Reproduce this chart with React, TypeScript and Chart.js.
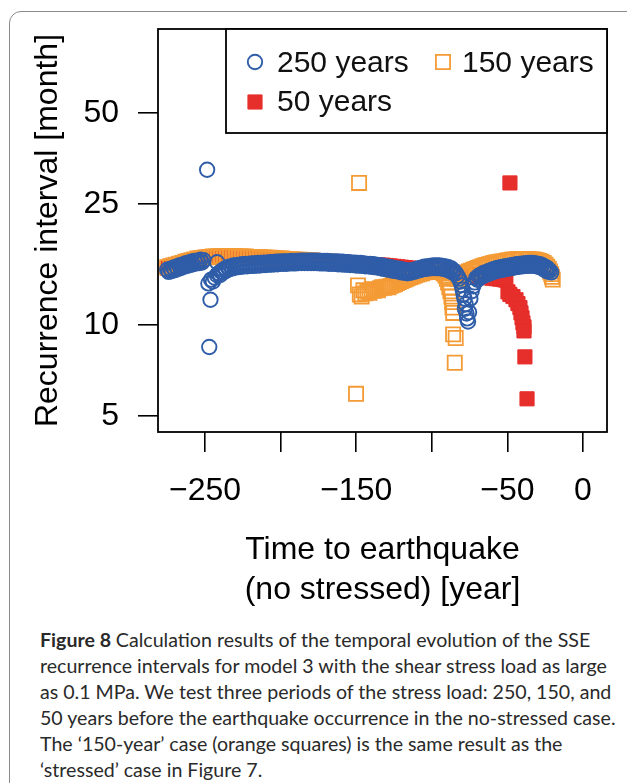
import React, { useEffect, useRef } from 'react';
import { Chart, registerables } from 'chart.js';

Chart.register(...registerables);

const FONT = '"Liberation Sans", Arial, Helvetica, sans-serif';
const BLUE = '#2F5DA8';
const ORANGE = '#F49B36';
const RED = '#E62E2B';

const SERIES_LABELS = ['250 years', '150 years', '50 years'];
const X_TICKS = [-250, -200, -150, -100, -50, 0];
const X_TICK_LABELS = ['\u2212250', '', '\u2212150', '', '\u221250', '0'];
const Y_TICKS = [5, 10, 25, 50];
const Y_TICK_LABELS = ['5', '10', '25', '50'];
const X_MIN = -281.1;
const X_MAX = 15.9;
const Y_MIN = 4.43;
const Y_MAX = 94.7;
const X_TITLE = ['Time to earthquake', '(no stressed) [year]'];
const Y_TITLE = 'Recurrence interval [month]';

type P = [number, number];

// ---- 250 years (blue circles) ----
const blueBefore: P[] = [
  [-275, 15.2], [-273, 15.3], [-271, 15.45], [-269, 15.55], [-267, 15.7], [-265, 15.8], [-263, 15.95],
  [-261, 16.05], [-259, 16.15], [-257, 16.25], [-255, 16.3], [-253, 16.4], [-251, 16.35],
];
const blueBeforeLow: P[] = [
  [-274, 14.95], [-272, 15.05], [-270, 15.15], [-268, 15.3], [-266, 15.4], [-264, 15.55], [-262, 15.65],
  [-260, 15.75], [-258, 15.85], [-256, 15.95], [-254, 16.0], [-252, 16.05],
];
const blueJump: P[] = [
  [-248.6, 32.5], [-247.2, 8.45], [-246.4, 12.1], [-247.8, 13.7], [-246.0, 14.1], [-244.8, 13.9],
  [-243.5, 14.3], [-242.2, 14.6], [-242.0, 16.1],
];
const blueRecovery: P[] = [
  [-241, 14.8], [-239.5, 15.0], [-238, 15.2], [-236.5, 15.35], [-235, 15.5], [-233, 15.6], [-231, 15.7],
  [-229, 15.75], [-227, 15.8], [-225, 15.85], [-223, 15.9], [-221, 15.9], [-219, 15.95], [-217, 15.95],
  [-215, 16.0], [-213, 16.0], [-211, 16.05], [-209, 16.05], [-207, 16.1], [-205, 16.1], [-203, 16.15],
  [-201, 16.15], [-199, 16.2], [-197, 16.2], [-195, 16.2], [-193, 16.25], [-191, 16.25], [-189, 16.25],
  [-187, 16.3], [-185, 16.3], [-183, 16.3], [-181, 16.3], [-179, 16.3], [-177, 16.3], [-175, 16.3],
  [-173, 16.25], [-171, 16.25], [-169, 16.25], [-167, 16.2], [-165, 16.2], [-163, 16.2], [-161, 16.15],
  [-159, 16.15], [-157, 16.1], [-155, 16.1], [-153, 16.05], [-151, 16.05], [-149, 16.0], [-147, 16.0],
  [-145, 15.95], [-143, 15.9], [-141, 15.9], [-139, 15.85], [-137, 15.8], [-135, 15.75], [-133, 15.7],
  [-131, 15.6], [-129, 15.55], [-127, 15.5], [-125, 15.4], [-123, 15.35], [-121, 15.3], [-119, 15.2],
  [-117, 15.15], [-115, 15.1], [-113, 15.15], [-111, 15.25], [-109, 15.35], [-107, 15.45], [-105, 15.55],
  [-103, 15.6], [-101, 15.65], [-99, 15.7], [-97, 15.7], [-95, 15.7], [-93, 15.65], [-91, 15.6],
  [-89, 15.5], [-87, 15.35], [-85.5, 15.1], [-84, 14.8], [-83, 14.5], [-82, 14.2], [-81, 13.9],
];
const blueRecoveryLow: P[] = [
  [-240, 14.6], [-238, 14.9], [-236, 15.1], [-234, 15.25], [-232, 15.35], [-230, 15.45], [-228, 15.5],
  [-226, 15.55], [-224, 15.6], [-222, 15.6], [-220, 15.65], [-218, 15.65], [-216, 15.7], [-214, 15.7],
  [-212, 15.75], [-210, 15.75], [-208, 15.8], [-206, 15.8], [-204, 15.85], [-202, 15.85], [-200, 15.9],
  [-198, 15.9], [-196, 15.9], [-194, 15.95], [-192, 15.95], [-190, 15.95], [-188, 16.0], [-186, 16.0],
  [-184, 16.0], [-182, 16.0], [-180, 16.0], [-178, 16.0], [-176, 16.0], [-174, 15.95], [-172, 15.95],
  [-170, 15.95], [-168, 15.9], [-166, 15.9], [-164, 15.9], [-162, 15.85], [-160, 15.85], [-158, 15.8],
  [-156, 15.8], [-154, 15.75], [-152, 15.75], [-150, 15.7], [-148, 15.7], [-146, 15.65], [-144, 15.6],
  [-142, 15.6], [-140, 15.55], [-138, 15.5], [-136, 15.45], [-134, 15.4], [-132, 15.3], [-130, 15.25],
  [-128, 15.2], [-126, 15.1], [-124, 15.05], [-122, 15.0], [-120, 14.9], [-118, 14.85], [-116, 14.8],
  [-114, 14.85], [-112, 14.95], [-110, 15.05], [-108, 15.15], [-106, 15.25], [-104, 15.3], [-102, 15.35],
  [-100, 15.4], [-98, 15.4], [-96, 15.4], [-94, 15.35], [-92, 15.3], [-90, 15.2], [-88, 15.05], [-86, 14.85],
];
const blueDip: P[] = [
  [-80.3, 13.5], [-79.6, 13.05], [-79, 12.6], [-78.4, 12.2], [-77.6, 11.7], [-78.1, 11.3], [-77, 10.9],
  [-76.6, 10.5], [-76.0, 10.25], [-75.3, 11.0], [-74.5, 12.2], [-73.6, 12.9], [-72.6, 13.4], [-71.6, 13.8],
];
const blueLate: P[] = [
  [-70.5, 14.3], [-69, 14.5], [-67.5, 14.65], [-66, 14.8], [-64.5, 14.9], [-63, 15.0], [-61.5, 15.1],
  [-60, 15.2], [-58.5, 15.3], [-57, 15.4], [-55.5, 15.45], [-54, 15.5], [-52.5, 15.55], [-51, 15.6],
  [-49.5, 15.65], [-48, 15.7], [-46.5, 15.75], [-45, 15.8], [-43.5, 15.85], [-42, 15.9], [-40.5, 15.9],
  [-39, 15.95], [-37.5, 15.95], [-36, 16.0], [-34.5, 16.0], [-33, 16.0], [-31.5, 15.95], [-30, 15.9],
  [-28.5, 15.85], [-27, 15.75], [-25.5, 15.6], [-24, 15.45], [-23, 15.3], [-22, 15.1], [-21, 14.9],
];
const blueLateLow: P[] = [
  [-69.8, 14.1], [-68.2, 14.3], [-66.8, 14.45], [-65.2, 14.55], [-63.8, 14.65], [-62.2, 14.75], [-60.8, 14.85],
  [-59.2, 14.95], [-57.8, 15.05], [-56.2, 15.1], [-54.8, 15.15], [-53.2, 15.2], [-51.8, 15.25], [-50.2, 15.3],
  [-48.8, 15.35], [-47.2, 15.4], [-45.8, 15.45], [-44.2, 15.5], [-42.8, 15.55], [-41.2, 15.6], [-39.8, 15.6],
  [-38.2, 15.65], [-36.8, 15.65], [-35.2, 15.7], [-33.8, 15.7], [-32.2, 15.65], [-30.8, 15.6], [-29.2, 15.55],
  [-27.8, 15.45], [-26.2, 15.3], [-24.8, 15.15], [-23.5, 15.0],
];

// ---- 150 years (orange squares) ----
const orangeBefore: P[] = [
  [-275, 15.5], [-273, 15.6], [-271, 15.7], [-269, 15.8], [-267, 15.9], [-265, 16.0], [-263, 16.15],
  [-261, 16.25], [-259, 16.35], [-257, 16.45], [-255, 16.55], [-253, 16.6], [-251, 16.65], [-249, 16.7],
  [-247, 16.75], [-245, 16.8], [-243, 16.8], [-241, 16.85], [-239, 16.85], [-237, 16.85], [-235, 16.85],
  [-233, 16.85], [-231, 16.85], [-229, 16.8], [-227, 16.8], [-225, 16.8], [-223, 16.8], [-221, 16.75],
  [-219, 16.75], [-217, 16.75], [-215, 16.7], [-213, 16.7], [-211, 16.7], [-209, 16.65], [-207, 16.65],
  [-205, 16.6], [-203, 16.6], [-201, 16.55], [-199, 16.55], [-197, 16.5], [-195, 16.5], [-193, 16.45],
  [-191, 16.45], [-189, 16.4], [-187, 16.4], [-185, 16.35], [-183, 16.35], [-181, 16.3], [-179, 16.3],
  [-177, 16.25], [-175, 16.25], [-173, 16.2], [-171, 16.2], [-169, 16.15], [-167, 16.15], [-165, 16.1],
  [-163, 16.1], [-161, 16.05], [-159, 16.05], [-157, 16.0], [-155, 16.0], [-153, 15.95], [-151, 15.95],
];
const orangeJump: P[] = [[-148.1, 29.4], [-150.1, 5.92]];
const orangeRecovery: P[] = [
  [-148.8, 13.5], [-147.6, 12.6], [-146.4, 12.4], [-145.2, 13.0], [-144.0, 12.7], [-142.6, 12.9],
  [-141.2, 12.75], [-139.8, 13.1], [-138.4, 12.95], [-137.0, 13.05], [-135.6, 13.0], [-134.2, 13.2],
  [-132.8, 13.3], [-131.4, 13.25], [-130.0, 13.35], [-128.6, 13.3], [-127.2, 13.45], [-125.8, 13.55],
  [-124.4, 13.6], [-123.0, 13.75], [-121.6, 13.85], [-120.2, 13.95], [-118.8, 14.05], [-117.4, 14.15],
  [-116.0, 14.25], [-114.4, 14.35], [-112.8, 14.45], [-111.2, 14.55], [-109.6, 14.65], [-108.0, 14.75],
  [-106.4, 14.8], [-104.8, 14.9], [-103.2, 14.95], [-101.6, 15.0], [-100.0, 15.05], [-98.4, 15.1],
  [-96.8, 15.1], [-95.2, 15.05], [-93.6, 14.95], [-92.2, 14.8], [-91.0, 14.55], [-90.0, 14.2],
];
const orangeDip: P[] = [
  [-89.2, 13.8], [-88.4, 13.3], [-87.7, 12.9], [-87.0, 12.4], [-86.5, 11.9], [-86.3, 11.4], [-85.8, 10.95],
  [-85.9, 9.3], [-84.2, 9.05], [-84.8, 7.5],
];
const orangeLate: P[] = [
  [-83.0, 14.2], [-81.5, 14.4], [-80.0, 14.55], [-78.5, 14.7], [-77.0, 14.85], [-75.5, 15.0], [-74.0, 15.1],
  [-72.5, 15.2], [-71.0, 15.3], [-69.5, 15.4], [-68.0, 15.5], [-66.5, 15.6], [-65.0, 15.7], [-63.5, 15.75],
  [-62.0, 15.85], [-60.5, 15.9], [-59.0, 16.0], [-57.5, 16.05], [-56.0, 16.1], [-54.5, 16.15], [-53.0, 16.2],
  [-51.5, 16.25], [-50.0, 16.3], [-48.5, 16.35], [-47.0, 16.4], [-45.5, 16.45], [-44.0, 16.45], [-42.5, 16.5],
  [-41.0, 16.5], [-39.5, 16.5], [-38.0, 16.5], [-36.5, 16.5], [-35.0, 16.45], [-33.5, 16.45], [-32.0, 16.4],
  [-30.5, 16.35], [-29.0, 16.25], [-27.5, 16.15], [-26.0, 16.0], [-24.8, 15.8], [-23.6, 15.55], [-22.6, 15.3],
  [-21.8, 15.0], [-21.0, 14.7], [-20.5, 14.4], [-20.0, 14.1],
];

// ---- 50 years (red filled squares) ----
const redBefore: P[] = [
  [-275, 15.4], [-272.5, 15.6], [-270, 15.75], [-267.5, 15.9], [-265, 16.0], [-262.5, 16.15], [-260, 16.3],
  [-257.5, 16.4], [-255, 16.5], [-252.5, 16.6], [-250, 16.7], [-247.5, 16.75], [-245, 16.8], [-242.5, 16.8],
  [-240, 16.85], [-237.5, 16.85], [-235, 16.85], [-232.5, 16.85], [-230, 16.8], [-227.5, 16.8], [-225, 16.8],
  [-222.5, 16.75], [-220, 16.75], [-217.5, 16.75], [-215, 16.7], [-212.5, 16.7], [-210, 16.65], [-207.5, 16.65],
  [-205, 16.6], [-202.5, 16.55], [-200, 16.55], [-197.5, 16.5], [-195, 16.5], [-192.5, 16.45], [-190, 16.4],
  [-187.5, 16.4], [-185, 16.35], [-182.5, 16.35], [-180, 16.3], [-177.5, 16.3], [-175, 16.25], [-172.5, 16.2],
  [-170, 16.2], [-167.5, 16.15], [-165, 16.1], [-162.5, 16.1], [-160, 16.05], [-157.5, 16.0], [-155, 16.0],
  [-152.5, 15.95], [-150, 15.9], [-147.5, 15.9], [-145, 15.85], [-142.5, 15.85], [-140, 15.8], [-137.5, 15.8],
  [-135, 15.75], [-132.5, 15.75], [-130, 15.7], [-127.5, 15.65], [-125, 15.6], [-122.5, 15.55], [-120, 15.5],
  [-117.5, 15.45], [-115, 15.4], [-112.5, 15.35], [-110, 15.3], [-107.5, 15.3], [-105, 15.25], [-102.5, 15.2],
  [-100, 15.2], [-97.5, 15.15], [-95, 15.1], [-92.5, 15.05], [-90, 15.0], [-87.5, 14.95], [-85, 14.9],
  [-82.5, 14.85], [-80, 14.8], [-77.5, 14.7], [-75, 14.65], [-72.5, 14.55], [-70, 14.5], [-67.5, 14.45],
  [-65, 14.4], [-62.5, 14.3], [-60, 14.25], [-57.5, 14.2], [-55, 14.15], [-52.5, 14.1], [-51, 14.05],
];
const redJump: P[] = [
  [-48.3, 29.4], [-49.6, 12.85], [-48.3, 12.6], [-46.3, 12.4], [-44.3, 12.1], [-43.0, 11.75], [-41.7, 11.4],
  [-41.0, 10.95], [-40.3, 10.55], [-39.7, 10.15], [-39.0, 9.85], [-39.0, 9.55], [-38.4, 7.84], [-37.0, 5.7],
];

const toPts = (...parts: P[][]) => parts.flat().map(([x, y]) => ({ x, y }));

const boxAndLegend = {
  id: 'boxAndLegend',
  afterDraw(chart: any) {
    const { ctx, chartArea: a } = chart;
    ctx.save();
    ctx.strokeStyle = '#000';
    ctx.lineWidth = 1.8;
    ctx.strokeRect(a.left, a.top, a.right - a.left, a.bottom - a.top);
    const lx = a.left + 68;
    const ly = a.top;
    const lw = a.right - lx;
    const lh = 104;
    ctx.fillStyle = '#fff';
    ctx.fillRect(lx, ly, lw, lh);
    ctx.strokeRect(lx, ly, lw, lh);
    const spots = [
      { mx: lx + 29, my: ly + 33, tx: lx + 51, ty: ly + 35 },
      { mx: lx + 217, my: ly + 33, tx: lx + 236, ty: ly + 35 },
      { mx: lx + 29, my: ly + 73, tx: lx + 51, ty: ly + 74 },
    ];
    chart.data.datasets.forEach((ds: any, i: number) => {
      const s = spots[i];
      ctx.lineWidth = ds.borderWidth;
      ctx.strokeStyle = ds.borderColor;
      ctx.fillStyle = ds.backgroundColor;
      ctx.beginPath();
      if (ds.pointStyle === 'circle') {
        ctx.arc(s.mx, s.my, ds.pointRadius, 0, Math.PI * 2);
      } else {
        const h = ds.pointRadius * Math.SQRT1_2;
        ctx.rect(s.mx - h, s.my - h, 2 * h, 2 * h);
      }
      ctx.fill();
      ctx.stroke();
      ctx.fillStyle = '#111';
      ctx.font = `30px ${FONT}`;
      ctx.textBaseline = 'middle';
      ctx.textAlign = 'left';
      ctx.fillText(ds.label, s.tx, s.ty);
    });
    ctx.restore();
  },
};

function ChartBox() {
  const ref = useRef<HTMLCanvasElement | null>(null);
  useEffect(() => {
    if (!ref.current) return;
    const chart = new Chart(ref.current, {
      type: 'scatter',
      data: {
        datasets: [
          {
            label: SERIES_LABELS[0],
            data: toPts(blueBefore, blueBeforeLow, blueJump, blueRecovery, blueRecoveryLow, blueDip, blueLate, blueLateLow),
            pointStyle: 'circle',
            pointRadius: 7.2,
            borderWidth: 1.9,
            borderColor: BLUE,
            backgroundColor: 'rgba(0,0,0,0)',
          },
          {
            label: SERIES_LABELS[1],
            data: toPts(orangeBefore, orangeJump, orangeRecovery, orangeDip, orangeLate),
            pointStyle: 'rect',
            pointRadius: 10,
            borderWidth: 1.8,
            borderColor: ORANGE,
            backgroundColor: 'rgba(0,0,0,0)',
          },
          {
            label: SERIES_LABELS[2],
            data: toPts(redBefore, redJump),
            pointStyle: 'rect',
            pointRadius: 10,
            borderWidth: 1,
            borderColor: RED,
            backgroundColor: RED,
          },
        ] as any,
      },
      options: {
        animation: false,
        responsive: false,
        devicePixelRatio: 1,
        events: [],
        layout: { padding: { top: 29, right: 20, left: 0, bottom: 0 } },
        plugins: { legend: { display: false }, tooltip: { enabled: false } },
        scales: {
          x: {
            type: 'linear',
            min: X_MIN,
            max: X_MAX,
            afterBuildTicks: (s: any) => {
              s.ticks = X_TICKS.map((v) => ({ value: v }));
            },
            afterFit: (s: any) => {
              s.height = 183;
              s.paddingLeft = 0;
              s.paddingRight = 0;
            },
            border: { display: false },
            grid: { display: true, drawOnChartArea: false, drawTicks: true, tickLength: 20, color: '#000', lineWidth: 1.6 },
            ticks: {
              autoSkip: false,
              maxRotation: 0,
              padding: 20,
              color: '#000',
              font: { family: FONT, size: 32 },
              callback: (_v: any, i: number) => X_TICK_LABELS[i],
            },
            title: {
              display: true,
              text: X_TITLE,
              color: '#000',
              font: { family: FONT, size: 32, lineHeight: 1.25 },
              padding: { top: 0, bottom: 5 },
            },
          },
          y: {
            type: 'logarithmic',
            min: Y_MIN,
            max: Y_MAX,
            afterBuildTicks: (s: any) => {
              s.ticks = Y_TICKS.map((v) => ({ value: v }));
            },
            afterFit: (s: any) => {
              s.width = 158;
              s.paddingTop = 0;
              s.paddingBottom = 0;
            },
            border: { display: false },
            grid: { display: true, drawOnChartArea: false, drawTicks: true, tickLength: 20, color: '#000', lineWidth: 1.6 },
            ticks: {
              autoSkip: false,
              padding: 19,
              color: '#000',
              font: { family: FONT, size: 32 },
              callback: (_v: any, i: number) => Y_TICK_LABELS[i],
            },
            title: {
              display: true,
              text: Y_TITLE,
              color: '#000',
              font: { family: FONT, size: 32 },
              padding: { top: 29, bottom: 0 },
            },
          },
        },
      } as any,
      plugins: [boxAndLegend],
    });
    return () => chart.destroy();
  }, []);
  return <canvas ref={ref} width={627} height={615} style={{ position: 'absolute', left: 0, top: 0, display: 'block' }} />;
}

const CAPTION_LINES = [
  'Calculation results of the temporal evolution of the SSE',
  'recurrence intervals for model 3 with the shear stress load as large',
  'as 0.1 MPa. We test three periods of the stress load: 250, 150, and',
  '50 years before the earthquake occurrence in the no-stressed case.',
  'The \u2018150-year\u2019 case (orange squares) is the same result as the',
  '\u2018stressed\u2019 case in Figure 7.',
];

export default function App() {
  return (
    <div style={{ position: 'absolute', left: 0, top: 0, width: 627, height: 783, overflow: 'hidden', background: '#fff' }}>
      <div
        style={{
          position: 'absolute',
          left: 9,
          top: 11,
          width: 680,
          height: 860,
          border: '1.5px solid #8a8a8a',
          borderRadius: 12,
          boxSizing: 'border-box',
        }}
      />
      <ChartBox />
      <div
        style={{
          position: 'absolute',
          left: 40,
          top: 627,
          fontFamily: 'Lato, "Open Sans", sans-serif',
          fontSize: 19.6,
          lineHeight: '26px',
          color: '#2a2a2a',
          whiteSpace: 'pre',
        }}
      >
        {CAPTION_LINES.map((t, i) => (
          <div key={i}>
            {i === 0 ? <b>Figure 8 </b> : null}
            {t}
          </div>
        ))}
      </div>
    </div>
  );
}
